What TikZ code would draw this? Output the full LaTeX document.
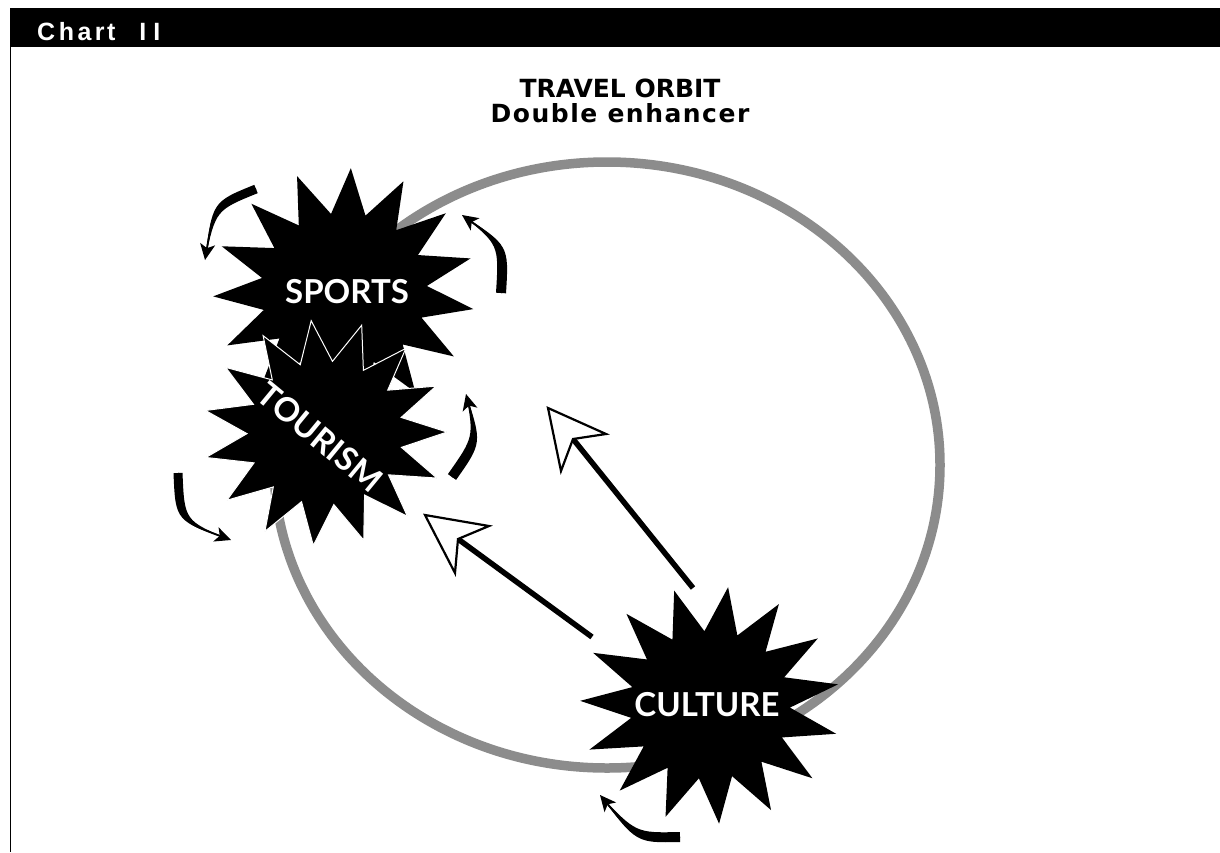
\documentclass[tikz,border=0pt]{standalone}
\usepackage{fontspec}
\setmainfont{Liberation Sans}
\newfontfamily\lato{Lato}
\newfontfamily\dejavu{DejaVu Sans}
\usetikzlibrary{arrows.meta,calc}
\definecolor{orbitgray}{RGB}{140,140,140}
\newcommand\starburst[8]{%
  \path[#8] plot[samples at={0,...,29}]
    ({#1+(mod(\x,2)==0 ? #3 : #5)*cos(#7+12*\x)},{#2-(mod(\x,2)==0 ? #4 : #6)*sin(#7+12*\x)}) -- cycle;
}
% tapered curved arrow: tail, control, head, half width
\newcommand\taperarrow[4]{%
  \fill ($(#1)!#4!90:(#2)$) .. controls ($(#2)!#4!-90:(#1)$) .. (#3)
        .. controls ($(#2)!#4!90:(#1)$) .. ($(#1)!#4!-90:(#2)$) -- cycle;
  \draw[curvy] (#1) .. controls (#2) .. (#3);
}
\begin{document}
\begin{tikzpicture}[x=1pt,y=-1pt,
  starlabel/.style={text=white,inner sep=0pt,font=\lato\bfseries\fontsize{33}{36}\selectfont},
  titletext/.style={inner sep=0pt,font=\dejavu\bfseries\fontsize{25}{28}\selectfont},
  hdrtext/.style={inner sep=0pt,text=white,font=\bfseries\fontsize{25}{28}\selectfont},
  shaft/.style={line width=5.5pt,line cap=butt},
  openhead/.style={fill=white,draw=black,line width=2.2pt,line join=miter},
  curvy/.style={line width=1.8pt,-{Stealth[length=16pt,width=15pt,inset=4pt]}},
  orbit/.style={draw=orbitgray,line width=9.5pt}]
\useasboundingbox (0,0) rectangle (1220,852);
\fill[white] (0,0) rectangle (1220,852);
% header
\fill[black] (10,8) rectangle (1220,47);
\draw[line width=1.5pt] (10.5,47) -- (10.5,852);
\node[hdrtext,anchor=base west] (hdr) at (37,40) {C\kern3.5pt h\kern3.5pt a\kern3.5pt r\kern2.5pt t\kern24pt I\kern7pt I};
% title
\node[titletext,anchor=base] (title1) at (620,97) {TRAVEL ORBIT};
\node[titletext,anchor=base] (title2) at (620,122) {\addfontfeature{LetterSpace=6}Double enhancer};
% orbit
\draw[orbit] (607,465) ellipse [x radius=333pt, y radius=303pt];
% starbursts
\starburst{344}{290}{131}{122}{83}{77}{87}{fill=black}
\starburst{325}{433}{122}{113}{78}{72}{96.5}{fill=black,draw=white,line width=1pt}
\starburst{710}{705}{130}{119}{80}{74}{82}{fill=black}
\node[starlabel] (sports) at (347,292) {SPORTS};
\node[starlabel,rotate=-39.5] (tourism) at (320,437) {TOURISM};
\node[starlabel] (culture) at (707,705) {CULTURE};
% straight arrows
\coordinate (aS) at (693,588);
\coordinate (aT) at (548,408);
\coordinate (aW1) at (606,434);
\coordinate (aN) at (573,439);
\coordinate (aW2) at (561,471);
\coordinate (bS) at (592,637);
\coordinate (bT) at (425,515);
\coordinate (bW1) at (489,526);
\coordinate (bN) at (458,539);
\coordinate (bW2) at (455,573);
\draw[shaft] (aS) -- (aN);
\draw[shaft] (bS) -- (bN);
\path[openhead] (aT) -- (aW1) -- (aN) -- (aW2) -- cycle;
\path[openhead] (bT) -- (bW1) -- (bN) -- (bW2) -- cycle;
% curved arrows
\coordinate (c1t) at (256,189); \coordinate (c1c) at (214,206); \coordinate (c1h) at (205,260);
\coordinate (c2t) at (501,293); \coordinate (c2c) at (504,245); \coordinate (c2h) at (462,215);
\coordinate (c3t) at (452,477); \coordinate (c3c) at (478,440); \coordinate (c3h) at (466,394);
\coordinate (c4t) at (178,473); \coordinate (c4c) at (180,521); \coordinate (c4h) at (231,540);
\coordinate (c5t) at (680,837); \coordinate (c5c) at (636,838); \coordinate (c5h) at (600,795);
\taperarrow{c1t}{c1c}{c1h}{4.5pt}
\taperarrow{c2t}{c2c}{c2h}{5pt}
\taperarrow{c3t}{c3c}{c3h}{5pt}
\taperarrow{c4t}{c4c}{c4h}{4.5pt}
\taperarrow{c5t}{c5c}{c5h}{5pt}
\end{tikzpicture}
\end{document}
